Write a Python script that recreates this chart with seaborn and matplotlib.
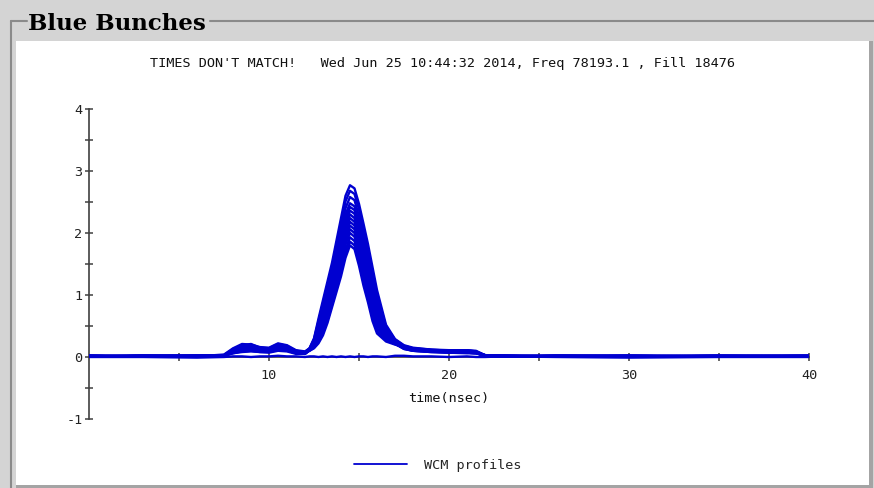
import matplotlib
matplotlib.use("Agg")
import matplotlib.pyplot as plt
from matplotlib.lines import Line2D
from matplotlib.patches import Rectangle
from matplotlib.ticker import FixedLocator, MultipleLocator
import pandas as pd
import seaborn as sns

# Sample times (ns) shared by every wall-current-monitor profile
time_ns = [0, 3, 6, 7.5, 8, 8.5, 9, 9.5, 10, 10.5, 11, 11.5, 12,
           12.25, 12.5, 12.75, 13, 13.25, 13.5, 13.75, 14, 14.25, 14.5,
           14.75, 15, 15.25, 15.5, 15.75, 16, 16.5, 17,
           17.5, 18, 19, 20, 21, 21.5, 22, 23, 26, 30, 35, 40]

# WCM profiles, one list per bunch trace
wcm_01 = [0.01, 0.02, 0.01, 0.04, 0.14, 0.21, 0.20, 0.16, 0.15, 0.22, 0.19, 0.11, 0.09,
          0.14, 0.30, 0.62, 0.92, 1.22, 1.52, 1.88, 2.24, 2.60, 2.77,
          2.72, 2.47, 2.15, 1.82, 1.45, 1.08, 0.52, 0.29,
          0.19, 0.15, 0.12, 0.11, 0.11, 0.10, 0.03, 0.02, 0.01, 0.02, 0.01, 0.01]
wcm_02 = [0.02, 0.01, 0.02, 0.03, 0.13, 0.19, 0.21, 0.15, 0.14, 0.21, 0.18, 0.10, 0.08,
          0.14, 0.29, 0.58, 0.87, 1.16, 1.45, 1.80, 2.15, 2.51, 2.68,
          2.63, 2.38, 2.06, 1.73, 1.37, 1.01, 0.49, 0.28,
          0.18, 0.14, 0.12, 0.10, 0.11, 0.09, 0.02, 0.01, 0.02, 0.01, 0.02, 0.01]
wcm_03 = [0.01, 0.02, 0.02, 0.02, 0.12, 0.18, 0.19, 0.14, 0.13, 0.20, 0.17, 0.10, 0.08,
          0.13, 0.27, 0.54, 0.81, 1.09, 1.38, 1.72, 2.06, 2.40, 2.58,
          2.53, 2.27, 1.95, 1.64, 1.28, 0.94, 0.47, 0.27,
          0.18, 0.14, 0.11, 0.10, 0.10, 0.09, 0.03, 0.02, 0.01, 0.01, 0.02, 0.02]
wcm_04 = [0.02, 0.01, 0.01, 0.03, 0.11, 0.17, 0.18, 0.14, 0.13, 0.19, 0.16, 0.09, 0.07,
          0.13, 0.25, 0.50, 0.75, 1.02, 1.30, 1.63, 1.96, 2.30, 2.48,
          2.43, 2.17, 1.85, 1.54, 1.19, 0.87, 0.44, 0.26,
          0.17, 0.13, 0.11, 0.10, 0.10, 0.08, 0.02, 0.01, 0.02, 0.02, 0.01, 0.02]
wcm_05 = [0.01, 0.02, 0.02, 0.02, 0.10, 0.16, 0.17, 0.13, 0.12, 0.18, 0.15, 0.09, 0.07,
          0.13, 0.24, 0.48, 0.71, 0.98, 1.26, 1.58, 1.90, 2.24, 2.42,
          2.37, 2.11, 1.79, 1.48, 1.14, 0.83, 0.42, 0.26,
          0.17, 0.13, 0.10, 0.09, 0.09, 0.08, 0.03, 0.02, 0.01, 0.01, 0.02, 0.01]
wcm_06 = [0.02, 0.01, 0.01, 0.02, 0.10, 0.15, 0.16, 0.12, 0.11, 0.17, 0.14, 0.08, 0.07,
          0.12, 0.23, 0.45, 0.68, 0.94, 1.22, 1.53, 1.84, 2.18, 2.36,
          2.31, 2.05, 1.73, 1.42, 1.08, 0.78, 0.41, 0.25,
          0.16, 0.12, 0.10, 0.09, 0.09, 0.08, 0.02, 0.01, 0.02, 0.02, 0.01, 0.01]
wcm_07 = [0.01, 0.02, 0.02, 0.02, 0.09, 0.14, 0.15, 0.11, 0.11, 0.16, 0.14, 0.08, 0.06,
          0.12, 0.22, 0.43, 0.64, 0.90, 1.17, 1.48, 1.78, 2.12, 2.30,
          2.24, 1.99, 1.67, 1.36, 1.03, 0.74, 0.39, 0.25,
          0.16, 0.12, 0.10, 0.09, 0.08, 0.07, 0.03, 0.02, 0.01, 0.01, 0.01, 0.02]
wcm_08 = [0.02, 0.01, 0.01, 0.02, 0.08, 0.13, 0.14, 0.11, 0.10, 0.15, 0.13, 0.07, 0.06,
          0.12, 0.21, 0.40, 0.61, 0.85, 1.13, 1.43, 1.73, 2.05, 2.24,
          2.18, 1.92, 1.60, 1.31, 0.98, 0.70, 0.37, 0.24,
          0.15, 0.12, 0.10, 0.08, 0.08, 0.07, 0.02, 0.01, 0.02, 0.01, 0.02, 0.01]
wcm_09 = [0.01, 0.02, 0.02, 0.02, 0.08, 0.12, 0.13, 0.10, 0.10, 0.14, 0.12, 0.07, 0.06,
          0.12, 0.20, 0.38, 0.57, 0.81, 1.08, 1.38, 1.67, 1.99, 2.18,
          2.12, 1.86, 1.54, 1.25, 0.92, 0.65, 0.36, 0.24,
          0.15, 0.11, 0.09, 0.08, 0.08, 0.07, 0.02, 0.02, 0.01, 0.02, 0.01, 0.01]
wcm_10 = [0.02, 0.01, 0.02, 0.02, 0.07, 0.11, 0.12, 0.10, 0.09, 0.13, 0.11, 0.07, 0.06,
          0.11, 0.19, 0.35, 0.54, 0.77, 1.04, 1.32, 1.61, 1.93, 2.12,
          2.06, 1.80, 1.48, 1.19, 0.87, 0.61, 0.34, 0.23,
          0.14, 0.11, 0.09, 0.08, 0.07, 0.06, 0.03, 0.01, 0.02, 0.01, 0.02, 0.02]
wcm_11 = [0.01, 0.02, 0.01, 0.02, 0.07, 0.10, 0.11, 0.09, 0.09, 0.12, 0.11, 0.06, 0.05,
          0.11, 0.18, 0.33, 0.50, 0.73, 0.99, 1.27, 1.55, 1.87, 2.06,
          2.00, 1.74, 1.42, 1.13, 0.81, 0.57, 0.32, 0.22,
          0.14, 0.10, 0.09, 0.07, 0.07, 0.06, 0.02, 0.02, 0.01, 0.01, 0.01, 0.01]
wcm_12 = [0.02, 0.01, 0.02, 0.02, 0.06, 0.09, 0.10, 0.08, 0.08, 0.11, 0.10, 0.06, 0.05,
          0.11, 0.17, 0.30, 0.47, 0.69, 0.95, 1.22, 1.49, 1.81, 2.00,
          1.94, 1.68, 1.36, 1.07, 0.76, 0.52, 0.31, 0.22,
          0.13, 0.10, 0.08, 0.07, 0.07, 0.06, 0.02, 0.01, 0.02, 0.02, 0.01, 0.02]
wcm_13 = [0.01, 0.02, 0.01, 0.02, 0.06, 0.08, 0.09, 0.08, 0.07, 0.10, 0.09, 0.05, 0.05,
          0.11, 0.16, 0.27, 0.43, 0.64, 0.90, 1.16, 1.43, 1.73, 1.93,
          1.87, 1.60, 1.28, 1.01, 0.70, 0.47, 0.29, 0.21,
          0.13, 0.10, 0.08, 0.07, 0.06, 0.06, 0.02, 0.02, 0.01, 0.01, 0.02, 0.01]
wcm_14 = [0.02, 0.01, 0.02, 0.03, 0.09, 0.15, 0.16, 0.12, 0.12, 0.16, 0.13, 0.08, 0.06,
          0.10, 0.15, 0.24, 0.39, 0.59, 0.84, 1.10, 1.36, 1.66, 1.86,
          1.80, 1.53, 1.21, 0.94, 0.63, 0.42, 0.27, 0.21,
          0.15, 0.12, 0.10, 0.09, 0.08, 0.07, 0.02, 0.01, 0.02, 0.01, 0.01, 0.02]
wcm_15 = [0.01, 0.02, 0.01, 0.02, 0.11, 0.18, 0.17, 0.13, 0.12, 0.19, 0.15, 0.09, 0.07,
          0.10, 0.14, 0.22, 0.35, 0.55, 0.80, 1.05, 1.30, 1.60, 1.80,
          1.74, 1.47, 1.15, 0.88, 0.58, 0.38, 0.25, 0.20,
          0.16, 0.13, 0.11, 0.10, 0.09, 0.08, 0.03, 0.02, 0.01, 0.02, 0.01, 0.01]
wcm_empty = [0.0, 0.0, -0.01, 0.0, 0.01, 0.01, 0.0, 0.01, 0.01, 0.02, 0.01, 0.01, 0.0,
             0.01, 0.01, 0.0, 0.01, 0.0, 0.01, 0.0, 0.01, 0.0, 0.01,
             0.0, 0.01, 0.01, 0.0, 0.01, 0.01, 0.0, 0.02,
             0.02, 0.01, 0.01, 0.0, 0.01, 0.0, 0.0, 0.01, 0.0, -0.01, 0.0, 0.0]

profiles = [wcm_01, wcm_02, wcm_03, wcm_04, wcm_05, wcm_06, wcm_07, wcm_08,
            wcm_09, wcm_10, wcm_11, wcm_12, wcm_13, wcm_14, wcm_15, wcm_empty]

x_major = [10, 20, 30, 40]
x_minor = [5, 15, 25, 35]

header = "TIMES DON'T MATCH!   Wed Jun 25 10:44:32 2014, Freq 78193.1 , Fill 18476"
box_title = "Blue Bunches"
legend_label = "WCM profiles"

# Long-format table: one row per (profile, sample)
records = []
for idx, values in enumerate(profiles):
    for t, v in zip(time_ns, values):
        records.append({"profile": idx, "time": t, "signal": v})
df = pd.DataFrame(records)

sns.set_style("white")
plt.rcParams["font.family"] = ["DejaVu Sans Mono"]
plt.rcParams["axes.unicode_minus"] = False

BLUE = "#0000d0"
AXIS = "#404040"
W, H = 874, 488


def fx(px):
    return px / W


def fy(py):
    return 1 - py / H


fig = plt.figure(figsize=(W / 100, H / 100), dpi=100, facecolor="#d4d4d4")

# White panel inside the group box, with a darker bevel on the right and bottom
fig.patches.append(Rectangle((fx(16), fy(485)), fx(869) - fx(16), fy(41) - fy(485),
                             transform=fig.transFigure, facecolor="white",
                             edgecolor="none", zorder=-3))
fig.patches.append(Rectangle((fx(869), fy(488)), fx(873) - fx(869), fy(41) - fy(488),
                             transform=fig.transFigure, facecolor="#a4a4a4",
                             edgecolor="none", zorder=-3))
fig.patches.append(Rectangle((fx(16), fy(488)), fx(873) - fx(16), fy(485) - fy(488),
                             transform=fig.transFigure, facecolor="#a4a4a4",
                             edgecolor="none", zorder=-3))

# Group box frame line, interrupted by the box title
frame_kw = dict(transform=fig.transFigure, color="#8a8a8a", lw=1.5, zorder=-2)
fig.lines.append(Line2D([fx(10.5), fx(10.5)], [fy(21), fy(488)], **frame_kw))
fig.lines.append(Line2D([fx(10.5), fx(27)], [fy(21), fy(21)], **frame_kw))
fig.lines.append(Line2D([fx(210), fx(874)], [fy(21), fy(21)], **frame_kw))

fig.text(fx(28), fy(30), box_title, family="DejaVu Serif", weight="bold",
         fontsize=16.5, color="black", ha="left", va="baseline")

fig.text(fx(443), fy(64), header, ha="center", va="center", fontsize=9.7,
         color="#111111")

ax = fig.add_axes([fx(89), fy(419), fx(809) - fx(89), fy(109) - fy(419)])
ax.set_facecolor("white")

sns.lineplot(data=df, x="time", y="signal", units="profile", estimator=None,
             color=BLUE, lw=1.7, ax=ax, legend=False, sort=False)

ax.set_xlim(0, 40)
ax.set_ylim(-1, 4)

for side in ("top", "right"):
    ax.spines[side].set_visible(False)
ax.spines["bottom"].set_position(("data", 0))
ax.spines["bottom"].set_bounds(0, 40)
for side in ("left", "bottom"):
    ax.spines[side].set_color(AXIS)
    ax.spines[side].set_linewidth(1.2)
    ax.spines[side].set_zorder(1)

ax.xaxis.set_major_locator(FixedLocator(x_major))
ax.xaxis.set_minor_locator(FixedLocator(x_minor))
ax.yaxis.set_major_locator(MultipleLocator(1))
ax.yaxis.set_minor_locator(MultipleLocator(0.5))
ax.tick_params(which="both", direction="inout", length=5.5, width=1.1,
               bottom=True, left=True, top=False, right=False,
               color=AXIS, labelcolor="#222222", labelsize=9.7)
ax.tick_params(axis="x", pad=6)
ax.tick_params(axis="y", pad=2)
ax.grid(False)

ax.set_xlabel("time(nsec)", fontsize=9.7, color="#111111")
ax.xaxis.set_label_coords(0.5, (419 - 392) / 310)
ax.set_ylabel("")

fig.legend(handles=[Line2D([], [], color=BLUE, lw=1.3)], labels=[legend_label],
           loc="center", bbox_to_anchor=(fx(438), fy(465)),
           bbox_transform=fig.transFigure, frameon=False, handlelength=3.9,
           handletextpad=1.3, fontsize=9.7)

fig.savefig("out.png", dpi=100, facecolor=fig.get_facecolor())
